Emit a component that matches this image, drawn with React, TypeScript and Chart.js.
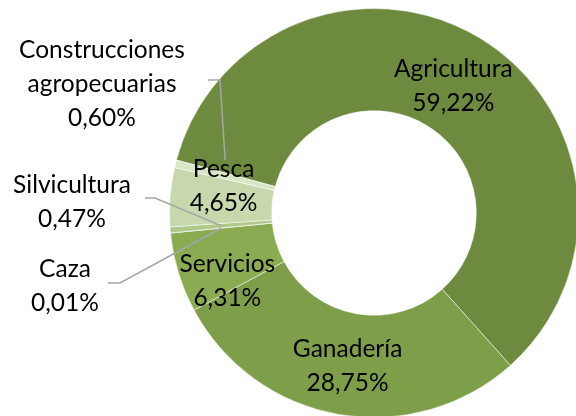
import React, { useEffect, useRef } from "react";
import { Chart, registerables } from "chart.js";

Chart.register(...registerables);

// ---- data ----
const categories = [
  "Agricultura",
  "Ganadería",
  "Servicios",
  "Caza",
  "Silvicultura",
  "Pesca",
  "Construcciones agropecuarias",
];
const shares = [59.22, 28.75, 6.31, 0.01, 0.47, 4.65, 0.6];
const valueLabels = ["59,22%", "28,75%", "6,31%", "0,01%", "0,47%", "4,65%", "0,60%"];
const labelLines = [
  ["Agricultura"],
  ["Ganadería"],
  ["Servicios"],
  ["Caza"],
  ["Silvicultura"],
  ["Pesca"],
  ["Construcciones", "agropecuarias"],
];

// ---- styles ----
const colors = ["#6E8A3F", "#7E9E4A", "#8BAB53", "#9DBB6E", "#AFC98B", "#C6D8AC", "#DAE6C8"];
const FONT = "24.5px Lato, 'Open Sans', sans-serif";
const LINE_H = 34;
const CAP_HALF = 8.8;

// layout for labels: inside labels offset from the slice centre; outside labels with leader lines
type LabelLayout =
  | { kind: "in"; dx: number; dy: number }
  | { kind: "out"; x: number; y: number; leader: [number, number][]; adx: number; ady: number };

const labelLayout: LabelLayout[] = [
  { kind: "in", dx: -1, dy: 2.5 },
  { kind: "in", dx: 0, dy: 1 },
  { kind: "in", dx: 0, dy: 22.5 },
  { kind: "out", x: 65, y: 277, leader: [[108, 283], [120, 283]], adx: 0, ady: 0 },
  { kind: "out", x: 72, y: 193, leader: [[145, 198], [155, 198]], adx: 0, ady: 0 },
  { kind: "in", dx: 2.5, dy: -16 },
  { kind: "out", x: 102, y: 58, leader: [[208, 80], [220, 80]], adx: 0, ady: -16 },
];

const labelPlugin = {
  id: "sliceLabels",
  afterDatasetsDraw(chart: any) {
    const ctx = chart.ctx as CanvasRenderingContext2D;
    const meta = chart.getDatasetMeta(0);
    ctx.save();
    ctx.font = FONT;
    ctx.textAlign = "center";
    ctx.textBaseline = "alphabetic";
    meta.data.forEach((arc: any, i: number) => {
      const c = arc.getCenterPoint();
      const lay = labelLayout[i];
      const lines = [...labelLines[i], valueLabels[i]];
      if (lay.kind === "in") {
        const cx = c.x + lay.dx;
        const cy = c.y + lay.dy;
        const first = cy - ((lines.length - 1) * LINE_H) / 2 + CAP_HALF;
        ctx.fillStyle = "#000";
        lines.forEach((t, k) => ctx.fillText(t, cx, first + k * LINE_H));
      } else {
        ctx.strokeStyle = "#A6A6A6";
        ctx.lineWidth = 1.5;
        ctx.beginPath();
        ctx.moveTo(lay.leader[0][0], lay.leader[0][1]);
        for (let k = 1; k < lay.leader.length; k++) ctx.lineTo(lay.leader[k][0], lay.leader[k][1]);
        ctx.lineTo(c.x + lay.adx, c.y + lay.ady);
        ctx.stroke();
        ctx.fillStyle = "#000";
        lines.forEach((t, k) => ctx.fillText(t, lay.x, lay.y + k * LINE_H));
      }
    });
    ctx.restore();
  },
};

export default function App() {
  const ref = useRef<HTMLCanvasElement | null>(null);
  useEffect(() => {
    document.body.style.margin = "0";
    document.body.style.overflow = "hidden";
    const chart = new Chart(ref.current as HTMLCanvasElement, {
      type: "doughnut",
      data: {
        labels: categories,
        datasets: [
          {
            data: shares,
            backgroundColor: colors,
            borderColor: "rgba(255,255,255,0.5)",
            borderWidth: 1,
          },
        ],
      },
      options: {
        responsive: false,
        animation: false,
        devicePixelRatio: 1,
        rotation: 285,
        cutout: "50%",
        layout: { padding: { left: 169, top: 8, right: 21, bottom: 22 } },
        plugins: { legend: { display: false }, tooltip: { enabled: false } },
        events: [],
      },
      plugins: [labelPlugin],
    });
    (document as any).fonts?.load?.(FONT).then(() => chart.draw()).catch(() => {});
    return () => chart.destroy();
  }, []);
  return (
    <div style={{ position: "fixed", left: 0, top: 0, width: 576, height: 416, overflow: "hidden", background: "#fff" }}>
      <canvas ref={ref} width={600} height={440} style={{ width: 600, height: 440, display: "block" }} />
    </div>
  );
}
